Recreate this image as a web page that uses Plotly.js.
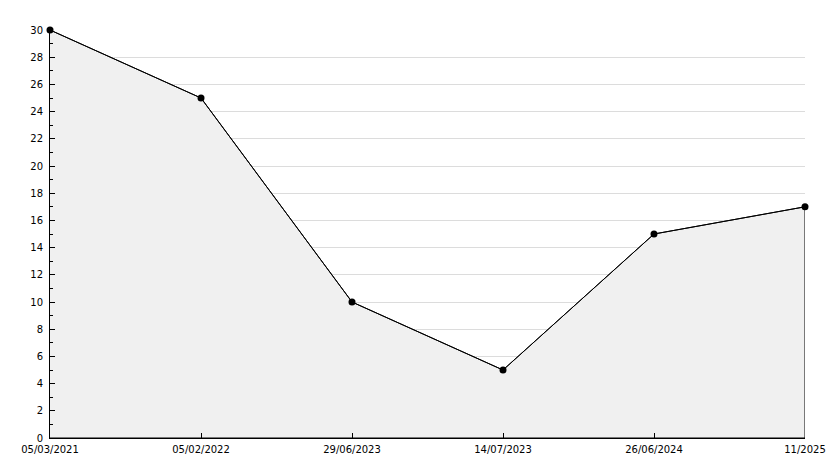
<!DOCTYPE html>
<html><head><meta charset="utf-8">
<script src="https://cdn.plot.ly/plotly-3.0.1.min.js"></script>
<style>html,body{margin:0;padding:0;background:#fff;}#chart{width:834px;height:468px;}</style>
</head><body><div id="chart"></div>
<script>
const categories = ["05/03/2021", "05/02/2022", "29/06/2023", "14/07/2023", "26/06/2024", "11/2025"];
const values = [30, 25, 10, 5, 15, 17];

// closed outline of the filled area (data points, then down to zero)
const fillX = categories.concat([categories[categories.length - 1], categories[0]]);
const fillY = values.concat([0, 0]);

const font = {family: "DejaVu Sans, Verdana, sans-serif", size: 10, color: "#000"};

const traces = [
  {
    x: fillX, y: fillY, type: "scatter", mode: "lines",
    fill: "toself", fillcolor: "#f0f0f0", cliponaxis: false,
    line: {color: "#000", width: 1}, hoverinfo: "skip", showlegend: false
  },
  {
    x: categories, y: values, type: "scatter", mode: "lines+markers",
    cliponaxis: false,
    line: {color: "#000", width: 1},
    marker: {color: "#000", size: 7, symbol: "circle"},
    showlegend: false
  }
];

const layout = {
  width: 834, height: 468,
  margin: {l: 50, r: 29, t: 30, b: 30},
  paper_bgcolor: "#fff", plot_bgcolor: "#fff",
  font: font,
  showlegend: false,
  xaxis: {
    type: "category", range: [0, categories.length - 1],
    showgrid: false, zeroline: false,
    showline: true, linecolor: "#000", linewidth: 1,
    ticks: "inside", ticklen: 5, tickcolor: "#000",
    ticklabelstandoff: 2,
    tickfont: font, automargin: false
  },
  yaxis: {
    range: [0, 30], dtick: 2, tick0: 0,
    showgrid: true, gridcolor: "#dcdcdc", gridwidth: 1,
    zeroline: false,
    showline: true, linecolor: "#000", linewidth: 1,
    ticks: "inside", ticklen: 5, tickcolor: "#000",
    ticklabelstandoff: 4,
    minor: {dtick: 1, ticks: "inside", ticklen: 3, tickcolor: "#000", showgrid: false},
    tickfont: font, automargin: false
  }
};

Plotly.newPlot("chart", traces, layout, {displayModeBar: false, staticPlot: true});
</script></body></html>
